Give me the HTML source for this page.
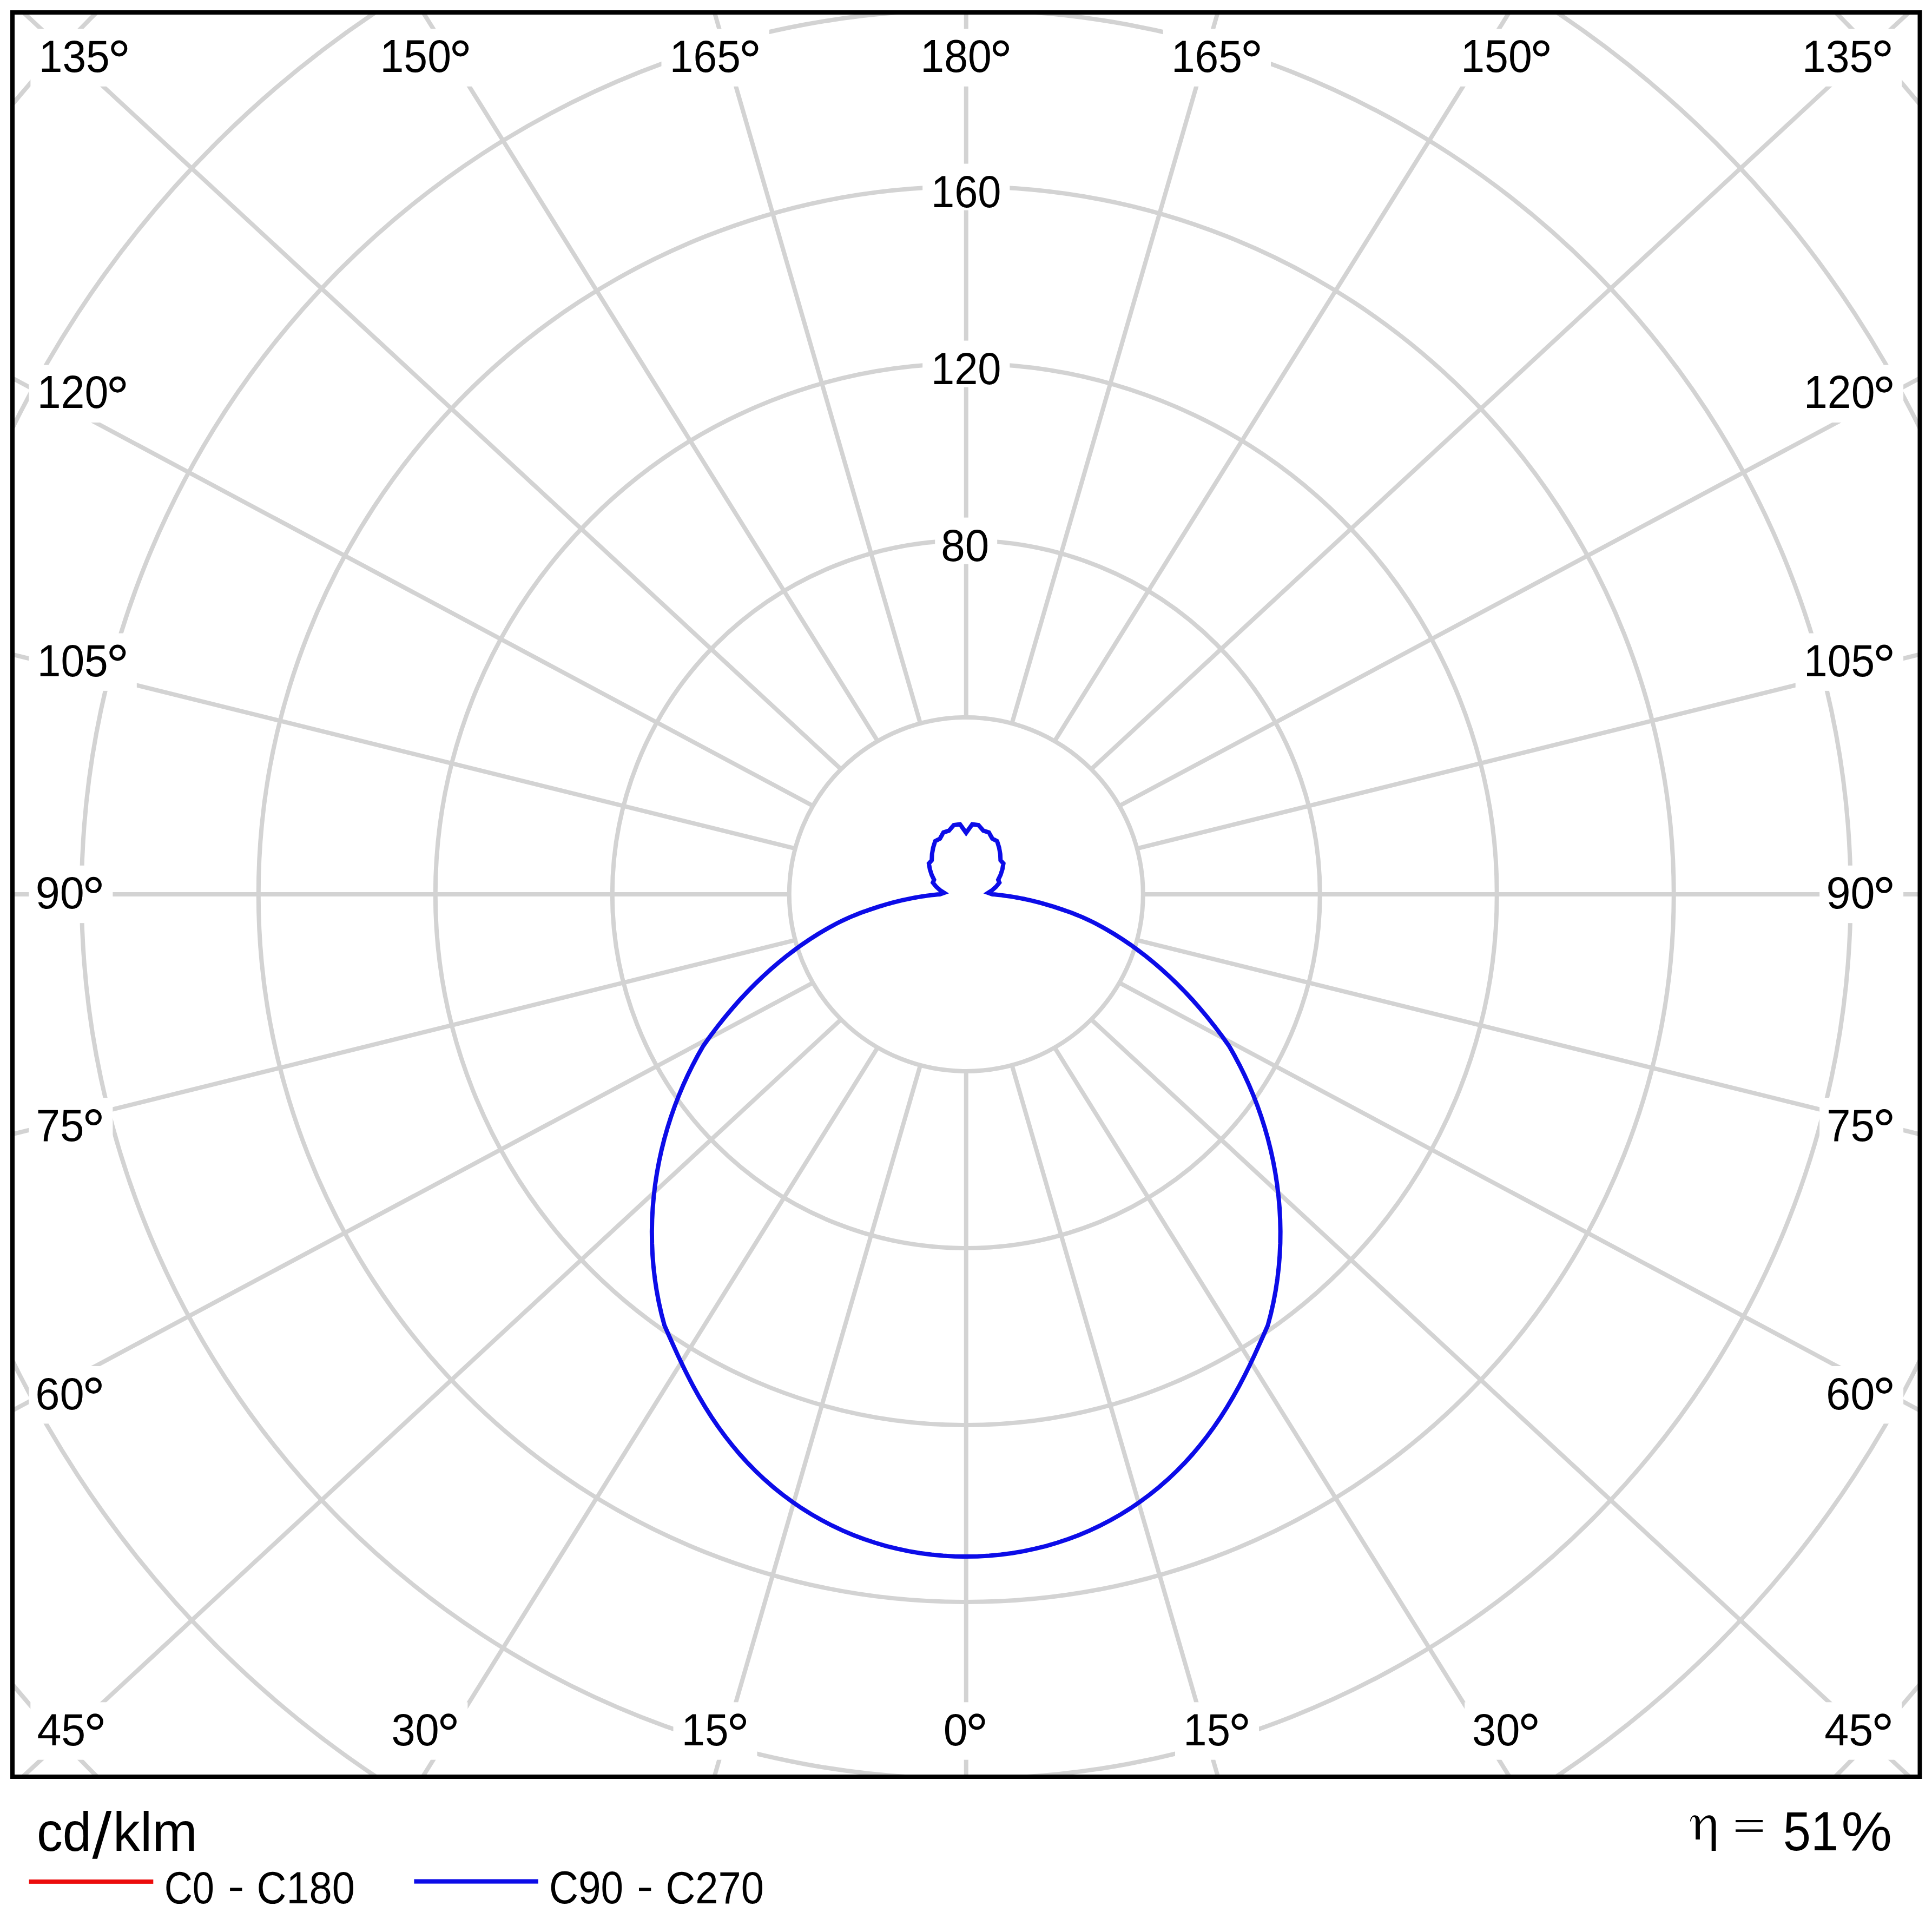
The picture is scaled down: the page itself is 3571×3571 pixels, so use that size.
<!DOCTYPE html>
<html><head><meta charset="utf-8"><title>Polar intensity diagram</title>
<style>html,body{margin:0;padding:0;background:#fff}body{width:3571px;height:3571px;position:relative;overflow:hidden;font-family:"Liberation Sans",sans-serif}</style></head>
<body>
<svg width="3571" height="3571" viewBox="0 0 3571 3571" style="position:absolute;left:0;top:0">
<rect x="0" y="0" width="3571" height="3571" fill="#fff"/>
<defs><clipPath id="cp"><rect x="26.0" y="26.0" width="3519.5" height="3255.0"/></clipPath></defs>
<g clip-path="url(#cp)" fill="none" stroke="#d3d3d3" stroke-width="8">
<circle cx="1785.75" cy="1653.0" r="327.0"/>
<circle cx="1785.75" cy="1653.0" r="654.0"/>
<circle cx="1785.75" cy="1653.0" r="981.0"/>
<circle cx="1785.75" cy="1653.0" r="1308.0"/>
<circle cx="1785.75" cy="1653.0" r="1635.0"/>
<circle cx="1785.75" cy="1653.0" r="1962.0"/>
<circle cx="1785.75" cy="1653.0" r="2289.0"/>
<line x1="1785.75" y1="1980.00" x2="1785.8" y2="5980.0"/>
<line x1="1870.38" y1="1968.86" x2="2989.1" y2="5832.6"/>
<line x1="1949.25" y1="1936.19" x2="4110.4" y2="5400.3"/>
<line x1="2016.97" y1="1884.22" x2="5073.4" y2="4712.7"/>
<line x1="2068.94" y1="1816.50" x2="5812.2" y2="3816.5"/>
<line x1="2101.61" y1="1737.63" x2="6276.7" y2="2772.9"/>
<line x1="2112.75" y1="1653.00" x2="6435.1" y2="1653.0"/>
<line x1="2101.61" y1="1568.37" x2="6276.7" y2="533.1"/>
<line x1="2068.94" y1="1489.50" x2="5812.2" y2="-510.5"/>
<line x1="2016.97" y1="1421.78" x2="5073.4" y2="-1406.7"/>
<line x1="1949.25" y1="1369.81" x2="4110.4" y2="-2094.3"/>
<line x1="1870.38" y1="1337.14" x2="2989.1" y2="-2526.6"/>
<line x1="1785.75" y1="1326.00" x2="1785.8" y2="-2674.0"/>
<line x1="1701.12" y1="1337.14" x2="582.4" y2="-2526.6"/>
<line x1="1622.25" y1="1369.81" x2="-539.0" y2="-2094.3"/>
<line x1="1554.53" y1="1421.78" x2="-1501.9" y2="-1406.7"/>
<line x1="1502.56" y1="1489.50" x2="-2240.7" y2="-510.5"/>
<line x1="1469.89" y1="1568.37" x2="-2705.2" y2="533.1"/>
<line x1="1458.75" y1="1653.00" x2="-2863.6" y2="1653.0"/>
<line x1="1469.89" y1="1737.63" x2="-2705.2" y2="2772.9"/>
<line x1="1502.56" y1="1816.50" x2="-2240.7" y2="3816.5"/>
<line x1="1554.53" y1="1884.22" x2="-1501.9" y2="4712.7"/>
<line x1="1622.25" y1="1936.19" x2="-539.0" y2="5400.3"/>
<line x1="1701.12" y1="1968.86" x2="582.4" y2="5832.6"/>
</g>
<rect x="56.4" y="53.4" width="199.4" height="106.4" fill="#fff"/>
<text transform="translate(71.71,133.00) scale(0.9322,1)" font-family="'Liberation Sans', sans-serif" font-size="84.3" fill="#000">135</text>
<circle cx="220.30" cy="89.40" r="12.15" fill="none" stroke="#000" stroke-width="5.7"/>
<rect x="3315.7" y="53.4" width="199.4" height="106.4" fill="#fff"/>
<text transform="translate(3331.01,133.00) scale(0.9322,1)" font-family="'Liberation Sans', sans-serif" font-size="84.3" fill="#000">135</text>
<circle cx="3479.60" cy="89.40" r="12.15" fill="none" stroke="#000" stroke-width="5.7"/>
<rect x="687.2" y="53.4" width="199.4" height="106.4" fill="#fff"/>
<text transform="translate(702.49,133.00) scale(0.9353,1)" font-family="'Liberation Sans', sans-serif" font-size="84.3" fill="#000">150</text>
<circle cx="851.10" cy="89.40" r="12.15" fill="none" stroke="#000" stroke-width="5.7"/>
<rect x="2684.9" y="53.4" width="199.4" height="106.4" fill="#fff"/>
<text transform="translate(2700.19,133.00) scale(0.9353,1)" font-family="'Liberation Sans', sans-serif" font-size="84.3" fill="#000">150</text>
<circle cx="2848.80" cy="89.40" r="12.15" fill="none" stroke="#000" stroke-width="5.7"/>
<rect x="1222.5" y="53.4" width="199.4" height="106.4" fill="#fff"/>
<text transform="translate(1237.81,133.00) scale(0.9322,1)" font-family="'Liberation Sans', sans-serif" font-size="84.3" fill="#000">165</text>
<circle cx="1386.40" cy="89.40" r="12.15" fill="none" stroke="#000" stroke-width="5.7"/>
<rect x="2149.6" y="53.4" width="199.4" height="106.4" fill="#fff"/>
<text transform="translate(2164.91,133.00) scale(0.9322,1)" font-family="'Liberation Sans', sans-serif" font-size="84.3" fill="#000">165</text>
<circle cx="2313.50" cy="89.40" r="12.15" fill="none" stroke="#000" stroke-width="5.7"/>
<rect x="1686.0" y="53.4" width="199.4" height="106.4" fill="#fff"/>
<text transform="translate(1701.34,133.00) scale(0.9353,1)" font-family="'Liberation Sans', sans-serif" font-size="84.3" fill="#000">180</text>
<circle cx="1849.95" cy="89.40" r="12.15" fill="none" stroke="#000" stroke-width="5.7"/>
<rect x="56.3" y="3146.3" width="155.0" height="106.4" fill="#fff"/>
<text transform="translate(68.38,3225.90) scale(0.9592,1)" font-family="'Liberation Sans', sans-serif" font-size="84.3" fill="#000">45</text>
<circle cx="175.80" cy="3182.30" r="12.15" fill="none" stroke="#000" stroke-width="5.7"/>
<rect x="3360.2" y="3146.3" width="155.0" height="106.4" fill="#fff"/>
<text transform="translate(3372.28,3225.90) scale(0.9592,1)" font-family="'Liberation Sans', sans-serif" font-size="84.3" fill="#000">45</text>
<circle cx="3479.70" cy="3182.30" r="12.15" fill="none" stroke="#000" stroke-width="5.7"/>
<rect x="709.4" y="3146.3" width="155.0" height="106.4" fill="#fff"/>
<text transform="translate(723.42,3225.90) scale(0.9421,1)" font-family="'Liberation Sans', sans-serif" font-size="84.3" fill="#000">30</text>
<circle cx="828.90" cy="3182.30" r="12.15" fill="none" stroke="#000" stroke-width="5.7"/>
<rect x="2707.1" y="3146.3" width="155.0" height="106.4" fill="#fff"/>
<text transform="translate(2721.12,3225.90) scale(0.9421,1)" font-family="'Liberation Sans', sans-serif" font-size="84.3" fill="#000">30</text>
<circle cx="2826.60" cy="3182.30" r="12.15" fill="none" stroke="#000" stroke-width="5.7"/>
<rect x="1244.5" y="3146.3" width="155.0" height="106.4" fill="#fff"/>
<text transform="translate(1259.87,3225.90) scale(0.9228,1)" font-family="'Liberation Sans', sans-serif" font-size="84.3" fill="#000">15</text>
<circle cx="1364.00" cy="3182.30" r="12.15" fill="none" stroke="#000" stroke-width="5.7"/>
<rect x="2172.0" y="3146.3" width="155.0" height="106.4" fill="#fff"/>
<text transform="translate(2187.37,3225.90) scale(0.9228,1)" font-family="'Liberation Sans', sans-serif" font-size="84.3" fill="#000">15</text>
<circle cx="2291.50" cy="3182.30" r="12.15" fill="none" stroke="#000" stroke-width="5.7"/>
<rect x="1730.5" y="3146.3" width="110.6" height="106.4" fill="#fff"/>
<text transform="translate(1743.82,3225.90) scale(0.9590,1)" font-family="'Liberation Sans', sans-serif" font-size="84.3" fill="#000">0</text>
<circle cx="1805.55" cy="3182.30" r="12.15" fill="none" stroke="#000" stroke-width="5.7"/>
<rect x="53.4" y="674.6" width="199.4" height="106.4" fill="#fff"/>
<text transform="translate(68.69,754.25) scale(0.9353,1)" font-family="'Liberation Sans', sans-serif" font-size="84.3" fill="#000">120</text>
<circle cx="217.30" cy="710.65" r="12.15" fill="none" stroke="#000" stroke-width="5.7"/>
<rect x="3318.7" y="674.6" width="199.4" height="106.4" fill="#fff"/>
<text transform="translate(3333.99,754.25) scale(0.9353,1)" font-family="'Liberation Sans', sans-serif" font-size="84.3" fill="#000">120</text>
<circle cx="3482.60" cy="710.65" r="12.15" fill="none" stroke="#000" stroke-width="5.7"/>
<rect x="53.4" y="1170.5" width="199.4" height="106.4" fill="#fff"/>
<text transform="translate(68.71,1250.10) scale(0.9322,1)" font-family="'Liberation Sans', sans-serif" font-size="84.3" fill="#000">105</text>
<circle cx="217.30" cy="1206.50" r="12.15" fill="none" stroke="#000" stroke-width="5.7"/>
<rect x="3318.7" y="1170.5" width="199.4" height="106.4" fill="#fff"/>
<text transform="translate(3334.01,1250.10) scale(0.9322,1)" font-family="'Liberation Sans', sans-serif" font-size="84.3" fill="#000">105</text>
<circle cx="3482.60" cy="1206.50" r="12.15" fill="none" stroke="#000" stroke-width="5.7"/>
<rect x="53.4" y="1599.8" width="155.0" height="106.4" fill="#fff"/>
<text transform="translate(65.76,1679.40) scale(0.9605,1)" font-family="'Liberation Sans', sans-serif" font-size="84.3" fill="#000">90</text>
<circle cx="172.90" cy="1635.80" r="12.15" fill="none" stroke="#000" stroke-width="5.7"/>
<rect x="3363.1" y="1599.8" width="155.0" height="106.4" fill="#fff"/>
<text transform="translate(3375.46,1679.40) scale(0.9605,1)" font-family="'Liberation Sans', sans-serif" font-size="84.3" fill="#000">90</text>
<circle cx="3482.60" cy="1635.80" r="12.15" fill="none" stroke="#000" stroke-width="5.7"/>
<rect x="53.4" y="2029.1" width="155.0" height="106.4" fill="#fff"/>
<text transform="translate(66.40,2108.70) scale(0.9490,1)" font-family="'Liberation Sans', sans-serif" font-size="84.3" fill="#000">75</text>
<circle cx="172.90" cy="2065.10" r="12.15" fill="none" stroke="#000" stroke-width="5.7"/>
<rect x="3363.1" y="2029.1" width="155.0" height="106.4" fill="#fff"/>
<text transform="translate(3376.10,2108.70) scale(0.9490,1)" font-family="'Liberation Sans', sans-serif" font-size="84.3" fill="#000">75</text>
<circle cx="3482.60" cy="2065.10" r="12.15" fill="none" stroke="#000" stroke-width="5.7"/>
<rect x="53.4" y="2525.0" width="155.0" height="106.4" fill="#fff"/>
<text transform="translate(65.33,2604.55) scale(0.9652,1)" font-family="'Liberation Sans', sans-serif" font-size="84.3" fill="#000">60</text>
<circle cx="172.90" cy="2560.95" r="12.15" fill="none" stroke="#000" stroke-width="5.7"/>
<rect x="3363.1" y="2525.0" width="155.0" height="106.4" fill="#fff"/>
<text transform="translate(3375.03,2604.55) scale(0.9652,1)" font-family="'Liberation Sans', sans-serif" font-size="84.3" fill="#000">60</text>
<circle cx="3482.60" cy="2560.95" r="12.15" fill="none" stroke="#000" stroke-width="5.7"/>
<rect x="1728.2" y="956.6" width="115.0" height="86" fill="#fff"/>
<text transform="translate(1739.25,1036.60) scale(0.9490,1)" font-family="'Liberation Sans', sans-serif" font-size="84.3" fill="#000">80</text>
<rect x="1705.2" y="629.6" width="161.2" height="86" fill="#fff"/>
<text transform="translate(1721.03,709.60) scale(0.9208,1)" font-family="'Liberation Sans', sans-serif" font-size="84.3" fill="#000">120</text>
<rect x="1705.2" y="302.6" width="161.2" height="86" fill="#fff"/>
<text transform="translate(1721.03,382.60) scale(0.9208,1)" font-family="'Liberation Sans', sans-serif" font-size="84.3" fill="#000">160</text>
<path d="M1785.75,2877.10 L1764.40,2876.70 L1743.07,2875.50 L1721.80,2873.50 L1700.62,2870.71 L1679.56,2867.11 L1658.63,2862.72 L1637.89,2857.53 L1617.35,2851.55 L1597.04,2844.78 L1576.99,2837.21 L1557.24,2828.86 L1537.82,2819.73 L1518.75,2809.83 L1500.06,2799.16 L1481.78,2787.74 L1463.94,2775.58 L1446.57,2762.70 L1429.70,2749.12 L1413.34,2734.86 L1397.52,2719.94 L1382.27,2704.40 L1367.59,2688.27 L1353.51,2671.59 L1340.03,2654.40 L1327.16,2636.76 L1314.89,2618.71 L1303.22,2600.31 L1292.15,2581.64 L1281.63,2562.75 L1271.66,2543.73 L1262.19,2524.65 L1253.17,2505.61 L1244.53,2486.70 L1236.22,2468.02 L1228.13,2449.66 L1222.55,2428.48 L1217.74,2407.07 L1213.70,2385.49 L1210.42,2363.77 L1207.90,2341.95 L1206.14,2320.06 L1205.13,2298.14 L1204.86,2276.23 L1205.32,2254.35 L1206.50,2232.55 L1208.40,2210.84 L1210.98,2189.28 L1214.25,2167.88 L1218.17,2146.69 L1222.75,2125.72 L1227.95,2105.00 L1233.75,2084.57 L1240.14,2064.45 L1247.09,2044.66 L1254.58,2025.23 L1262.59,2006.18 L1271.08,1987.53 L1280.04,1969.30 L1289.43,1951.52 L1299.23,1934.19 L1312.41,1915.68 L1325.80,1897.86 L1339.37,1880.74 L1353.11,1864.31 L1367.00,1848.56 L1381.04,1833.49 L1395.21,1819.08 L1409.48,1805.32 L1423.86,1792.22 L1438.33,1779.75 L1452.86,1767.92 L1467.47,1756.72 L1482.12,1746.13 L1496.82,1736.15 L1511.54,1726.77 L1526.29,1717.99 L1534.75,1713.25 L1540.75,1709.90 L1546.75,1706.80 L1552.75,1703.76 L1558.75,1700.86 L1564.75,1698.10 L1570.75,1695.40 L1576.75,1692.89 L1582.75,1690.43 L1588.75,1688.09 L1594.75,1685.85 L1600.75,1683.70 L1606.75,1681.64 L1612.75,1679.63 L1618.75,1677.62 L1624.75,1675.68 L1630.75,1673.82 L1636.75,1672.03 L1642.75,1670.31 L1648.75,1668.67 L1654.75,1667.09 L1660.75,1665.60 L1666.75,1664.17 L1672.75,1662.82 L1678.75,1661.54 L1684.75,1660.34 L1690.75,1659.21 L1696.75,1658.15 L1702.75,1657.16 L1708.75,1656.25 L1714.75,1655.41 L1720.75,1654.65 L1726.75,1653.96 L1732.75,1653.34 L1737.15,1653.00 L1745.03,1650.24 L1737.45,1645.28 L1730.47,1638.99 L1724.29,1631.43 L1726.48,1626.16 L1722.03,1617.01 L1718.78,1606.91 L1716.86,1596.00 L1722.16,1590.21 L1722.69,1578.65 L1724.79,1566.74 L1728.53,1554.68 L1737.38,1550.07 L1743.81,1538.57 L1754.01,1535.35 L1763.04,1524.99 L1774.35,1523.50 L1785.75,1539.35 L1797.15,1523.50 L1808.46,1524.99 L1817.49,1535.35 L1827.69,1538.57 L1834.12,1550.07 L1842.97,1554.68 L1846.71,1566.74 L1848.81,1578.65 L1849.34,1590.21 L1854.64,1596.00 L1852.72,1606.91 L1849.47,1617.01 L1845.02,1626.16 L1847.21,1631.43 L1841.03,1638.99 L1834.05,1645.28 L1826.47,1650.24 L1834.35,1653.00 L1838.75,1653.34 L1844.75,1653.96 L1850.75,1654.65 L1856.75,1655.41 L1862.75,1656.25 L1868.75,1657.16 L1874.75,1658.15 L1880.75,1659.21 L1886.75,1660.34 L1892.75,1661.54 L1898.75,1662.82 L1904.75,1664.17 L1910.75,1665.60 L1916.75,1667.09 L1922.75,1668.67 L1928.75,1670.31 L1934.75,1672.03 L1940.75,1673.82 L1946.75,1675.68 L1952.75,1677.62 L1958.75,1679.63 L1964.75,1681.64 L1970.75,1683.70 L1976.75,1685.85 L1982.75,1688.09 L1988.75,1690.43 L1994.75,1692.89 L2000.75,1695.40 L2006.75,1698.10 L2012.75,1700.86 L2018.75,1703.76 L2024.75,1706.80 L2030.75,1709.90 L2036.75,1713.25 L2045.21,1717.99 L2059.96,1726.77 L2074.68,1736.15 L2089.38,1746.13 L2104.03,1756.72 L2118.64,1767.92 L2133.17,1779.75 L2147.64,1792.22 L2162.02,1805.32 L2176.29,1819.08 L2190.46,1833.49 L2204.50,1848.56 L2218.39,1864.31 L2232.13,1880.74 L2245.70,1897.86 L2259.09,1915.68 L2272.27,1934.19 L2282.07,1951.52 L2291.46,1969.30 L2300.42,1987.53 L2308.91,2006.18 L2316.92,2025.23 L2324.41,2044.66 L2331.36,2064.45 L2337.75,2084.57 L2343.55,2105.00 L2348.75,2125.72 L2353.33,2146.69 L2357.25,2167.88 L2360.52,2189.28 L2363.10,2210.84 L2365.00,2232.55 L2366.18,2254.35 L2366.64,2276.23 L2366.37,2298.14 L2365.36,2320.06 L2363.60,2341.95 L2361.08,2363.77 L2357.80,2385.49 L2353.76,2407.07 L2348.95,2428.48 L2343.37,2449.66 L2335.28,2468.02 L2326.97,2486.70 L2318.33,2505.61 L2309.31,2524.65 L2299.84,2543.73 L2289.87,2562.75 L2279.35,2581.64 L2268.28,2600.31 L2256.61,2618.71 L2244.34,2636.76 L2231.47,2654.40 L2217.99,2671.59 L2203.91,2688.27 L2189.23,2704.40 L2173.98,2719.94 L2158.16,2734.86 L2141.80,2749.12 L2124.93,2762.70 L2107.56,2775.58 L2089.72,2787.74 L2071.44,2799.16 L2052.75,2809.83 L2033.68,2819.73 L2014.26,2828.86 L1994.51,2837.21 L1974.46,2844.78 L1954.15,2851.55 L1933.61,2857.53 L1912.87,2862.72 L1891.94,2867.11 L1870.88,2870.71 L1849.70,2873.50 L1828.43,2875.50 L1807.10,2876.70 Z" fill="none" stroke="#ec0c0c" stroke-width="6" stroke-linejoin="miter" stroke-miterlimit="6"/>
<path d="M1785.75,2877.10 L1764.40,2876.70 L1743.07,2875.50 L1721.80,2873.50 L1700.62,2870.71 L1679.56,2867.11 L1658.63,2862.72 L1637.89,2857.53 L1617.35,2851.55 L1597.04,2844.78 L1576.99,2837.21 L1557.24,2828.86 L1537.82,2819.73 L1518.75,2809.83 L1500.06,2799.16 L1481.78,2787.74 L1463.94,2775.58 L1446.57,2762.70 L1429.70,2749.12 L1413.34,2734.86 L1397.52,2719.94 L1382.27,2704.40 L1367.59,2688.27 L1353.51,2671.59 L1340.03,2654.40 L1327.16,2636.76 L1314.89,2618.71 L1303.22,2600.31 L1292.15,2581.64 L1281.63,2562.75 L1271.66,2543.73 L1262.19,2524.65 L1253.17,2505.61 L1244.53,2486.70 L1236.22,2468.02 L1228.13,2449.66 L1222.55,2428.48 L1217.74,2407.07 L1213.70,2385.49 L1210.42,2363.77 L1207.90,2341.95 L1206.14,2320.06 L1205.13,2298.14 L1204.86,2276.23 L1205.32,2254.35 L1206.50,2232.55 L1208.40,2210.84 L1210.98,2189.28 L1214.25,2167.88 L1218.17,2146.69 L1222.75,2125.72 L1227.95,2105.00 L1233.75,2084.57 L1240.14,2064.45 L1247.09,2044.66 L1254.58,2025.23 L1262.59,2006.18 L1271.08,1987.53 L1280.04,1969.30 L1289.43,1951.52 L1299.23,1934.19 L1312.41,1915.68 L1325.80,1897.86 L1339.37,1880.74 L1353.11,1864.31 L1367.00,1848.56 L1381.04,1833.49 L1395.21,1819.08 L1409.48,1805.32 L1423.86,1792.22 L1438.33,1779.75 L1452.86,1767.92 L1467.47,1756.72 L1482.12,1746.13 L1496.82,1736.15 L1511.54,1726.77 L1526.29,1717.99 L1534.75,1713.25 L1540.75,1709.90 L1546.75,1706.80 L1552.75,1703.76 L1558.75,1700.86 L1564.75,1698.10 L1570.75,1695.40 L1576.75,1692.89 L1582.75,1690.43 L1588.75,1688.09 L1594.75,1685.85 L1600.75,1683.70 L1606.75,1681.64 L1612.75,1679.63 L1618.75,1677.62 L1624.75,1675.68 L1630.75,1673.82 L1636.75,1672.03 L1642.75,1670.31 L1648.75,1668.67 L1654.75,1667.09 L1660.75,1665.60 L1666.75,1664.17 L1672.75,1662.82 L1678.75,1661.54 L1684.75,1660.34 L1690.75,1659.21 L1696.75,1658.15 L1702.75,1657.16 L1708.75,1656.25 L1714.75,1655.41 L1720.75,1654.65 L1726.75,1653.96 L1732.75,1653.34 L1737.15,1653.00 L1745.03,1650.24 L1737.45,1645.28 L1730.47,1638.99 L1724.29,1631.43 L1726.48,1626.16 L1722.03,1617.01 L1718.78,1606.91 L1716.86,1596.00 L1722.16,1590.21 L1722.69,1578.65 L1724.79,1566.74 L1728.53,1554.68 L1737.38,1550.07 L1743.81,1538.57 L1754.01,1535.35 L1763.04,1524.99 L1774.35,1523.50 L1785.75,1539.35 L1797.15,1523.50 L1808.46,1524.99 L1817.49,1535.35 L1827.69,1538.57 L1834.12,1550.07 L1842.97,1554.68 L1846.71,1566.74 L1848.81,1578.65 L1849.34,1590.21 L1854.64,1596.00 L1852.72,1606.91 L1849.47,1617.01 L1845.02,1626.16 L1847.21,1631.43 L1841.03,1638.99 L1834.05,1645.28 L1826.47,1650.24 L1834.35,1653.00 L1838.75,1653.34 L1844.75,1653.96 L1850.75,1654.65 L1856.75,1655.41 L1862.75,1656.25 L1868.75,1657.16 L1874.75,1658.15 L1880.75,1659.21 L1886.75,1660.34 L1892.75,1661.54 L1898.75,1662.82 L1904.75,1664.17 L1910.75,1665.60 L1916.75,1667.09 L1922.75,1668.67 L1928.75,1670.31 L1934.75,1672.03 L1940.75,1673.82 L1946.75,1675.68 L1952.75,1677.62 L1958.75,1679.63 L1964.75,1681.64 L1970.75,1683.70 L1976.75,1685.85 L1982.75,1688.09 L1988.75,1690.43 L1994.75,1692.89 L2000.75,1695.40 L2006.75,1698.10 L2012.75,1700.86 L2018.75,1703.76 L2024.75,1706.80 L2030.75,1709.90 L2036.75,1713.25 L2045.21,1717.99 L2059.96,1726.77 L2074.68,1736.15 L2089.38,1746.13 L2104.03,1756.72 L2118.64,1767.92 L2133.17,1779.75 L2147.64,1792.22 L2162.02,1805.32 L2176.29,1819.08 L2190.46,1833.49 L2204.50,1848.56 L2218.39,1864.31 L2232.13,1880.74 L2245.70,1897.86 L2259.09,1915.68 L2272.27,1934.19 L2282.07,1951.52 L2291.46,1969.30 L2300.42,1987.53 L2308.91,2006.18 L2316.92,2025.23 L2324.41,2044.66 L2331.36,2064.45 L2337.75,2084.57 L2343.55,2105.00 L2348.75,2125.72 L2353.33,2146.69 L2357.25,2167.88 L2360.52,2189.28 L2363.10,2210.84 L2365.00,2232.55 L2366.18,2254.35 L2366.64,2276.23 L2366.37,2298.14 L2365.36,2320.06 L2363.60,2341.95 L2361.08,2363.77 L2357.80,2385.49 L2353.76,2407.07 L2348.95,2428.48 L2343.37,2449.66 L2335.28,2468.02 L2326.97,2486.70 L2318.33,2505.61 L2309.31,2524.65 L2299.84,2543.73 L2289.87,2562.75 L2279.35,2581.64 L2268.28,2600.31 L2256.61,2618.71 L2244.34,2636.76 L2231.47,2654.40 L2217.99,2671.59 L2203.91,2688.27 L2189.23,2704.40 L2173.98,2719.94 L2158.16,2734.86 L2141.80,2749.12 L2124.93,2762.70 L2107.56,2775.58 L2089.72,2787.74 L2071.44,2799.16 L2052.75,2809.83 L2033.68,2819.73 L2014.26,2828.86 L1994.51,2837.21 L1974.46,2844.78 L1954.15,2851.55 L1933.61,2857.53 L1912.87,2862.72 L1891.94,2867.11 L1870.88,2870.71 L1849.70,2873.50 L1828.43,2875.50 L1807.10,2876.70 Z" fill="none" stroke="#0c0ce8" stroke-width="8" stroke-linejoin="miter" stroke-miterlimit="6"/>
<rect x="23.0" y="23.0" width="3525.5" height="3261.0" fill="none" stroke="#000" stroke-width="8"/>
<text transform="translate(67.89,3420.60) scale(0.9371,1)" font-family="'Liberation Sans', sans-serif" font-size="102.2" fill="#000">cd</text>
<path d="M170.4,3435.8 L179.8,3435.8 L206.3,3347 L196.9,3347 Z" fill="#000"/>
<text transform="translate(208.78,3420.60) scale(0.9819,1)" font-family="'Liberation Sans', sans-serif" font-size="102.2" fill="#000">klm</text>
<rect x="53.6" y="3473.9" width="229.7" height="8" fill="#ec0c0c"/>
<text transform="translate(303.69,3517.90) scale(0.8573,1)" font-family="'Liberation Sans', sans-serif" font-size="84.3" fill="#000">C0</text>
<rect x="425.1" y="3489.2" width="22.3" height="5.9" fill="#000"/>
<text transform="translate(474.61,3517.90) scale(0.9000,1)" font-family="'Liberation Sans', sans-serif" font-size="84.3" fill="#000">C180</text>
<rect x="765.4" y="3473.4" width="229.4" height="8.2" fill="#0c0ce8"/>
<text transform="translate(1015.06,3517.90) scale(0.8865,1)" font-family="'Liberation Sans', sans-serif" font-size="84.3" fill="#000">C90</text>
<rect x="1181" y="3489.2" width="22.3" height="5.9" fill="#000"/>
<text transform="translate(1230.50,3517.90) scale(0.9005,1)" font-family="'Liberation Sans', sans-serif" font-size="84.3" fill="#000">C270</text>
<text transform="translate(3295.82,3420.00) scale(0.9065,1)" font-family="'Liberation Sans', sans-serif" font-size="101.6" fill="#000">51</text>
<text transform="translate(3403.62,3420.00) scale(1.0359,1)" font-family="'Liberation Sans', sans-serif" font-size="101.6" fill="#000">%</text>
<path transform="translate(3100,3330) scale(0.10352)" d="M231,352 C234,290 266,243 314,243 C362,243 397,276 405,338 L405,368 C450,300 505,243 572,243 C640,243 690,300 690,400 L690,878 L615,878 L615,400 C615,330 590,292 548,292 C495,292 440,350 405,415 L405,675 L330,675 L330,335 C330,295 318,272 296,272 C270,272 252,305 248,352 Z" fill="#000"/>
<rect x="3208" y="3364" width="50.1" height="4.1" fill="#000"/><rect x="3208" y="3381.4" width="50.1" height="4.5" fill="#000"/>
</svg>
</body></html>
